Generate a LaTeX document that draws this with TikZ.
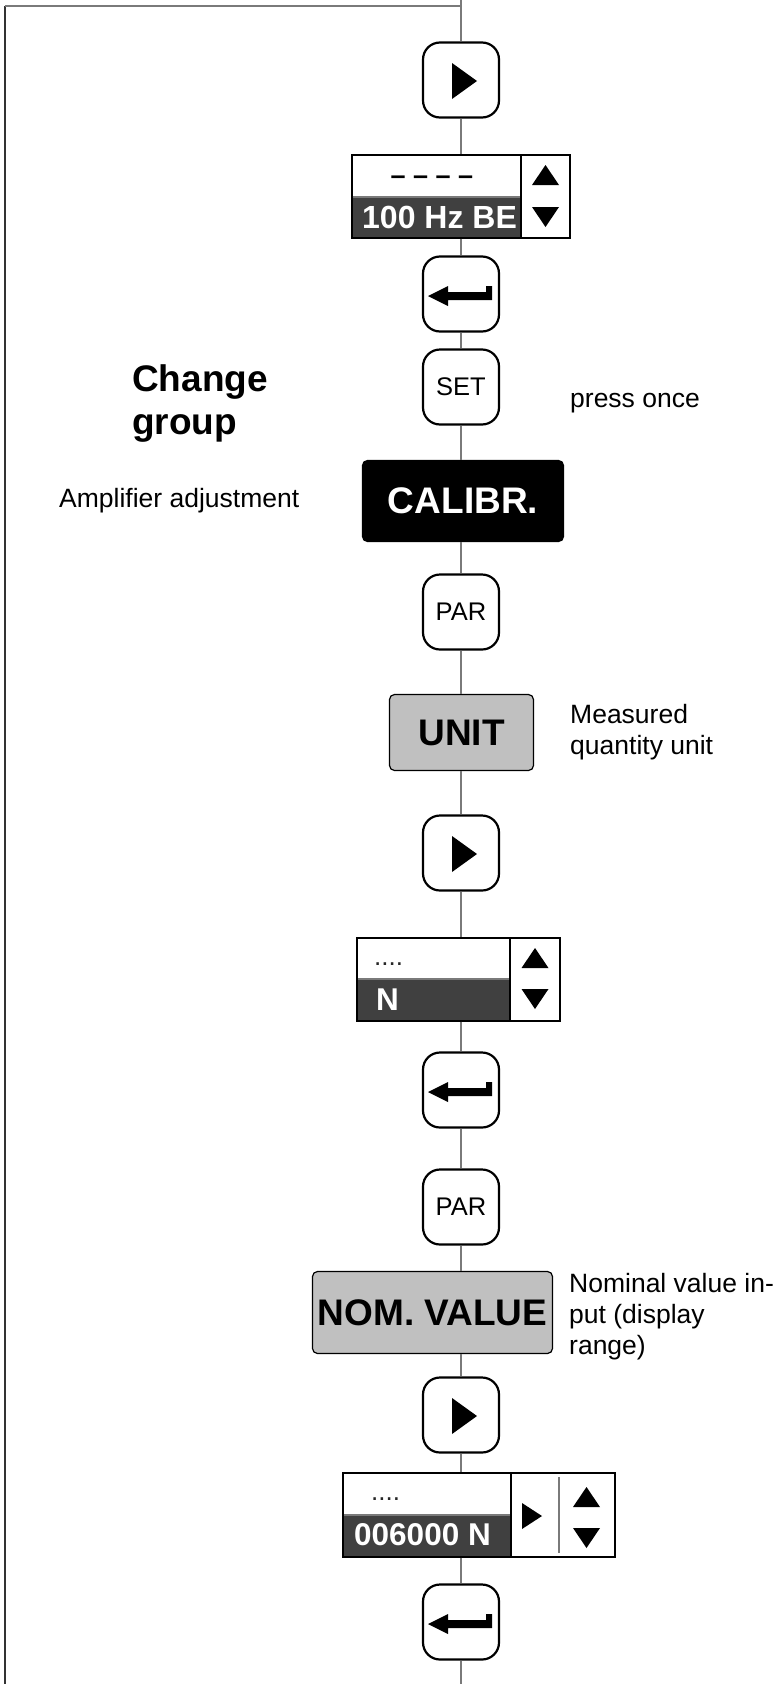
\documentclass[tikz,border=0pt]{standalone}
\usepackage{fontspec}
\setmainfont{Liberation Sans}
\usetikzlibrary{positioning,calc}
\definecolor{lcdDark}{HTML}{404040}
\definecolor{keyGray}{HTML}{C0C0C0}
\definecolor{wireGray}{HTML}{7A7A7A}

\begin{document}
\begin{tikzpicture}[x=1pt,y=-1pt,
  key/.style={draw,line width=2.2pt,rounded corners=17pt,minimum width=76pt,minimum height=75pt,inner sep=0pt,font=\fontsize{25.5}{28}\selectfont},
  lcd/.style={draw,line width=1.3pt,inner sep=0pt},
  menu/.style={draw,line width=1.2pt,rounded corners=5pt,fill=keyGray,inner sep=0pt,font=\bfseries\fontsize{37}{40}\selectfont},
  lcdval/.style={inner sep=0pt,anchor=base west,text=white,font=\bfseries\fontsize{31.5}{34}\selectfont},
  lcdhint/.style={inner sep=0pt,anchor=base west,text=black!85,font=\fontsize{26}{28}\selectfont},
  link/.style={wireGray,line width=1.5pt},
  frameline/.style={black!80,line width=2pt},
  note/.style={inner sep=0pt,align=left,font=\fontsize{26.5}{31}\selectfont}]
  \useasboundingbox (0,0) rectangle (784,1684);

  % display cells
  \fill[lcdDark] (352,197) rectangle (521,238);
  \fill[lcdDark] (357,979) rectangle (510,1021);
  \fill[lcdDark] (343,1515) rectangle (511,1557);
  \draw[wireGray,line width=1.2pt] (352,197) -- (521,197) (357,979) -- (510,979) (343,1515) -- (511,1515);
  \draw[line width=1.2pt] (521,155) -- (521,238) (510,938) -- (510,1021) (511,1473) -- (511,1557);
  \draw[wireGray,line width=1.2pt] (559,1477) -- (559,1553);

  % keys, displays and menu groups
  \coordinate (top) at (461,0);
  \node[key] (play1) at (461,80) {};
  \node[lcd,minimum width=218pt,minimum height=83pt] (disp1) at (461,196.5) {};
  \node[key] (enter1) at (461,294) {};
  \node[key] (set) at (461,387) {SET};
  \node[menu,fill=black,text=white,minimum width=201pt,minimum height=81pt] (calibr) at (463,501) {CALIBR.};
  \node[key] (par1) at (461,612) {PAR};
  \node[menu,minimum width=144pt,minimum height=76pt] (unit) at (461.5,732.5) {UNIT};
  \node[key] (play2) at (461,853) {};
  \node[lcd,minimum width=203pt,minimum height=83pt] (disp2) at (458.5,979.5) {};
  \node[key] (enter2) at (461,1090) {};
  \node[key] (par2) at (461,1207) {PAR};
  \node[menu,minimum width=240pt,minimum height=82pt] (nomval) at (432.5,1312.5) {NOM. VALUE};
  \node[key] (play3) at (461,1415) {};
  \node[lcd,minimum width=272pt,minimum height=84pt] (disp3) at (479,1515) {};
  \node[key] (enter3) at (461,1622) {};
  \coordinate (bottom) at (461,1684);

  % display texts
  \node[lcdhint,anchor=base,text=black,font=\bfseries\fontsize{27}{28}\selectfont] (disp1hint) at (432,184) {– – – –};
  \node[lcdval,font=\bfseries\fontsize{32}{34}\selectfont] (disp1val) at (362,228) {100 Hz BE};
  \node[lcdhint] (disp2hint) at (374,965) {....};
  \node[lcdval] (disp2val) at (376,1010) {N};
  \node[lcdhint] (disp3hint) at (371,1500) {....};
  \node[lcdval] (disp3val) at (354,1545) {006000 N};

  % arrow keys of the displays
  \fill (532,185) -- (545.5,165) -- (559,185) -- cycle (532,207) -- (559,207) -- (545.5,227) -- cycle;
  \fill (521.5,968) -- (535,948) -- (548.5,968) -- cycle (521.5,989) -- (548.5,989) -- (535,1009) -- cycle;
  \fill (573,1507) -- (586.5,1487) -- (600,1507) -- cycle (573,1528) -- (600,1528) -- (586.5,1548) -- cycle;
  \fill (522,1503) -- (542,1516) -- (522,1529) -- cycle;

  % key symbols
  \foreach \k in {play1,play2,play3}
    \fill[shift={(\k.center)}] (-9,-17) -- (16,1) -- (-9,19) -- cycle;
  \foreach \k in {enter1,enter2,enter3}
    \fill[shift={(\k.center)}] (-33,2) -- (-13,-8) -- (-13,-2) -- (25,-2) -- (25,-8) -- (31,-8) -- (31,6) -- (-13,6) -- (-13,12) -- cycle;

  % connectors
  \draw[link] (top) -- (play1.north);
  \foreach \a/\b in {play1/disp1,disp1/enter1,enter1/set,set/calibr,calibr/par1,par1/unit,unit/play2,play2/disp2,disp2/enter2,enter2/par2,par2/nomval,nomval/play3,play3/disp3,disp3/enter3}
    \draw[link] (\a.south -| top) -- (\b.north -| top);
  \draw[link] (enter3.south) -- (bottom);
  \coordinate (loopbot) at (5,1684);
  \coordinate (loopcorner) at (5,6);
  \draw[frameline] (loopbot) -- (loopcorner);
  \draw[link] (loopcorner) -- (loopcorner -| top);

  % notes
  \node[note,font=\bfseries\fontsize{37}{43}\selectfont,anchor=north west] (grouplbl) at (132,364) {Change\\group};
  \node[note,anchor=base west] (pressonce) at (570,407) {press once};
  \node[note,anchor=base west] (amplbl) at (59,507) {Amplifier adjustment};
  \node[note,anchor=north west] (unitlbl) at (570,704) {Measured\\quantity unit};
  \node[note,anchor=north west] (nomlbl) at (569,1273) {Nominal value in-\\put (display\\range)};
\end{tikzpicture}
\end{document}
